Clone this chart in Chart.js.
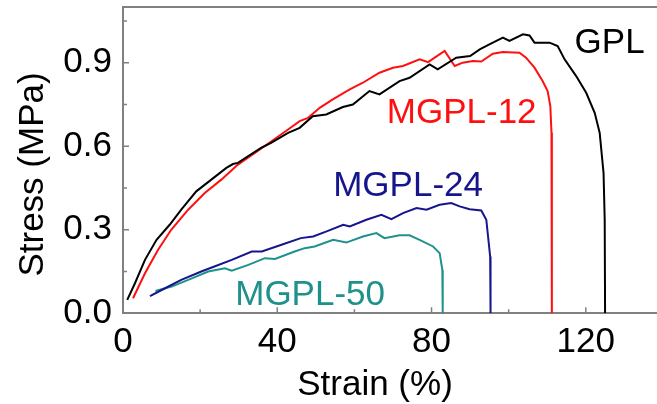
<!DOCTYPE html>
<html>
<head>
<meta charset="utf-8">
<script src="https://cdn.jsdelivr.net/npm/chart.js@4"></script>
<style>
  html, body { margin: 0; padding: 0; background: #fff; overflow: hidden; }
  #wrap { width: 657px; height: 404px; position: relative; }
</style>
</head>
<body>
<div id="wrap"><canvas id="c" width="657" height="404"></canvas></div>
<script>
// ---- data ----
const gplStrain = [1.1,3.1,5.7,8.7,12.1,15.1,19.0,22.9,26.8,28.5,29.8,32.4,35.8,38.4,42.8,45.8,49.2,52.7,57.0,59.6,63.9,66.5,71.7,74.3,79.5,81.6,86.4,90.0,92.5,95.0,98.5,100.2,103.7,105.4,106.7,110.6,112.7,114.5,117.5,120.1,122.3,123.6,124.6,124.9,125.0];
const gplStress = [0.048,0.108,0.192,0.264,0.318,0.372,0.438,0.480,0.522,0.536,0.540,0.564,0.594,0.612,0.648,0.666,0.708,0.714,0.741,0.750,0.798,0.786,0.834,0.846,0.894,0.876,0.918,0.924,0.948,0.966,0.990,0.978,1.002,0.998,0.972,0.972,0.960,0.912,0.852,0.792,0.720,0.648,0.504,0.336,0.0];

const mgpl12Strain = [2.6,5.7,9.1,12.5,16.9,21.2,25.5,29.8,34.2,38.5,42.8,45.8,48.0,51.0,54.4,58.8,62.2,66.5,70.0,72.6,76.9,79.1,83.4,86.0,88.1,90.7,92.9,95.9,98.5,102.8,104.5,106.7,108.8,110.1,110.8,111.1,111.2];
const mgpl12Stress = [0.054,0.144,0.228,0.300,0.372,0.432,0.480,0.534,0.576,0.618,0.660,0.690,0.702,0.738,0.768,0.804,0.828,0.864,0.882,0.888,0.912,0.902,0.942,0.888,0.900,0.906,0.904,0.932,0.938,0.936,0.918,0.882,0.834,0.798,0.744,0.648,0.0];

const mgpl24Strain = [7.0,10.9,15.1,20.3,23.7,28.2,33.4,36.0,41.1,46.1,49.3,52.8,57.1,58.8,63.1,67.0,69.6,72.6,76.1,78.7,82.1,85.1,87.3,89.9,92.9,94.2,95.2,95.3];
const mgpl24Stress = [0.062,0.090,0.120,0.150,0.168,0.192,0.222,0.222,0.246,0.270,0.276,0.294,0.318,0.312,0.336,0.354,0.338,0.360,0.378,0.372,0.390,0.396,0.384,0.374,0.369,0.336,0.204,0.0];

const mgpl50Strain = [8.4,12.6,16.9,22.1,26.4,28.2,32.5,36.8,39.4,44.5,47.1,49.7,54.5,57.9,62.2,65.7,67.8,71.7,74.3,76.9,80.4,82.1,82.8,82.9];
const mgpl50Stress = [0.080,0.096,0.120,0.150,0.162,0.153,0.174,0.198,0.195,0.222,0.234,0.240,0.264,0.254,0.276,0.288,0.270,0.280,0.280,0.264,0.240,0.216,0.156,0.0];

const seriesNames = ["GPL", "MGPL-12", "MGPL-24", "MGPL-50"];
const xTickValues = [0, 40, 80, 120];
const yTickValues = [0.0, 0.3, 0.6, 0.9];
const yTickLabels = ["0.0", "0.3", "0.6", "0.9"];
const xTitle = "Strain (%)";
const yTitle = "Stress (MPa)";

// ---- styling ----
const colors = ["#000000", "#ff1010", "#16168c", "#1f918b"];
const FONT = '"Liberation Sans", Arial, Helvetica, sans-serif';
const AXIS_COLOR = "#808080";

function pts(xs, ys) { return xs.map((x, i) => ({ x: x, y: ys[i] })); }

const datasets = [
  [gplStrain, gplStress],
  [mgpl12Strain, mgpl12Stress],
  [mgpl24Strain, mgpl24Stress],
  [mgpl50Strain, mgpl50Stress]
].map((d, i) => ({
  label: seriesNames[i],
  data: pts(d[0], d[1]),
  showLine: true,
  borderColor: colors[i],
  backgroundColor: colors[i],
  borderWidth: 2,
  pointRadius: 0,
  tension: 0,
  fill: false
}));

// label anchors in data units (left edge, baseline)
const labelAnchors = [
  { x: 117.1, y: 0.936 },
  { x: 68.4, y: 0.684 },
  { x: 54.5, y: 0.420 },
  { x: 29.1, y: 0.031 }
];

const decorPlugin = {
  id: 'decor',
  afterDraw(chart) {
    const ctx = chart.ctx;
    const xs = chart.scales.x, ys = chart.scales.y;
    const a = chart.chartArea;
    ctx.save();
    // top frame line
    ctx.strokeStyle = AXIS_COLOR;
    ctx.lineWidth = 2;
    ctx.beginPath();
    ctx.moveTo(a.left - 1, a.top);
    ctx.lineTo(chart.width, a.top);
    ctx.stroke();
    // inward ticks
    ctx.lineWidth = 1.5;
    const xMaj = xTickValues, yMaj = yTickValues;
    const xStep = xMaj[1] - xMaj[0], yStep = yMaj[1] - yMaj[0];
    ctx.beginPath();
    xMaj.forEach(v => { const p = xs.getPixelForValue(v); ctx.moveTo(p, a.bottom); ctx.lineTo(p, a.bottom - 6); });
    for (let v = xMaj[0] + xStep / 2; v <= xs.max; v += xStep) {
      const p = xs.getPixelForValue(v); ctx.moveTo(p, a.bottom); ctx.lineTo(p, a.bottom - 4);
    }
    yMaj.forEach(v => { const p = ys.getPixelForValue(v); ctx.moveTo(a.left, p); ctx.lineTo(a.left + 6, p); });
    for (let v = yMaj[0] + yStep / 2; v <= ys.max; v += yStep) {
      const p = ys.getPixelForValue(v); ctx.moveTo(a.left, p); ctx.lineTo(a.left + 4, p);
    }
    ctx.stroke();
    // series labels
    ctx.font = '35px ' + FONT;
    ctx.textAlign = 'left';
    ctx.textBaseline = 'alphabetic';
    labelAnchors.forEach((p, i) => {
      ctx.fillStyle = colors[i];
      ctx.fillText(seriesNames[i], xs.getPixelForValue(p.x), ys.getPixelForValue(p.y));
    });
    // axis titles
    ctx.fillStyle = '#000';
    ctx.textAlign = 'center';
    ctx.fillText(xTitle, 375, 395);
    ctx.translate(42.5, 174.5);
    ctx.rotate(-Math.PI / 2);
    ctx.fillText(yTitle, 0, 0);
    ctx.restore();
  }
};

new Chart(document.getElementById('c'), {
  type: 'scatter',
  data: { datasets: datasets },
  options: {
    responsive: false,
    animation: false,
    layout: { padding: { top: 7, right: 1, left: 0, bottom: 0 } },
    plugins: { legend: { display: false }, tooltip: { enabled: false } },
    scales: {
      x: {
        type: 'linear', min: 0, max: 138.2,
        grid: { display: false, drawTicks: false },
        border: { display: true, color: AXIS_COLOR, width: 2 },
        ticks: { color: '#000', font: { size: 35, family: FONT }, padding: 8, maxRotation: 0,
                 callback: v => String(v) },
        afterBuildTicks: s => { s.ticks = xTickValues.map(v => ({ value: v })); },
        afterFit: s => { s.height = 90.7; s.paddingLeft = 0; s.paddingRight = 0; }
      },
      y: {
        type: 'linear', min: 0, max: 1.1,
        grid: { display: false, drawTicks: false },
        border: { display: true, color: AXIS_COLOR, width: 2 },
        ticks: { color: '#000', font: { size: 35, family: FONT }, padding: 11,
                 callback: (v) => { const i = yTickValues.findIndex(t => Math.abs(t - v) < 1e-9); return i >= 0 ? yTickLabels[i] : ''; } },
        afterBuildTicks: s => { s.ticks = yTickValues.map(v => ({ value: v })); },
        afterFit: s => { s.width = 123; s.paddingTop = 0; s.paddingBottom = 0; }
      }
    }
  },
  plugins: [decorPlugin]
});
</script>
</body>
</html>
